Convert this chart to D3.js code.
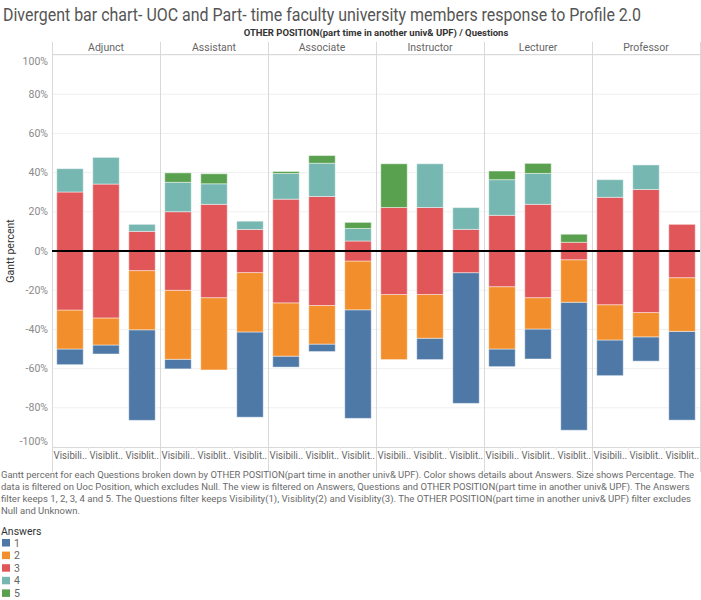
<!DOCTYPE html>
<html>
<head>
<meta charset="utf-8">
<script src="https://cdn.jsdelivr.net/npm/d3@7"></script>
<style>
  html, body { margin: 0; padding: 0; background: #fff; }
  svg { display: block; font-family: "Liberation Sans Narrow", "Roboto", "Liberation Sans", sans-serif; }
</style>
</head>
<body>
<svg id="chart" width="701" height="600"></svg>
<script>
// ---------------- data ----------------
const positions = ["Adjunct", "Assistant", "Associate", "Instructor", "Lecturer", "Professor"];
const questions = ["Visibility(1)", "Visiblity(2)", "Visiblity(3)"];
const questionLabels = ["Visibili..", "Visiblit..", "Visiblit.."];
const answers = ["1", "2", "3", "4", "5"];
const answerColors = ["#4e79a7", "#f28e2b", "#e15759", "#76b7b2", "#59a14f"];
const yTicks = [-100, -80, -60, -40, -20, 0, 20, 40, 60, 80, 100];

// percentages per answer, ordered position x question (Adjunct V1, V2, V3, Assistant V1, ...)
const ans1 = [8, 4.6, 46.2, 4.9, 0, 43.5, 5.6, 3.8, 55.4, 0, 10.9, 66.7, 9, 15.3, 65.3, 18.2, 12.4, 45.3];
const ans2 = [19.9, 13.8, 30.2, 35.2, 36.9, 30.3, 27.2, 19.7, 24.9, 33.2, 22.3, 0, 31.8, 16, 21.7, 18, 12.4, 27.4];
const ans3 = [60.2, 68.3, 20, 40.1, 47.6, 22, 52.9, 55.6, 10.2, 44.4, 44.4, 22.1, 36.4, 47.6, 8.9, 54.8, 62.8, 27.2];
const ans4 = [11.9, 13.6, 3.6, 15, 10.5, 4.2, 13.1, 17, 6.4, 0, 22.3, 11.1, 18.2, 15.8, 0, 9, 12.5, 0];
const ans5 = [0, 0, 0, 4.8, 5.1, 0, 1, 3.9, 3.1, 22.3, 0, 0, 4.4, 5.1, 4.1, 0, 0, 0];
const series = [ans1, ans2, ans3, ans4, ans5];

const titleText = "Divergent bar chart- UOC and Part- time faculty university members response to Profile 2.0";
const headerText = "OTHER POSITION(part time in another univ& UPF) / Questions";
const yTitle = "Gantt percent";
const captionLines = [
  "Gantt percent for each Questions broken down by OTHER POSITION(part time in another univ& UPF).  Color shows details about Answers.  Size shows Percentage. The",
  "data is filtered on Uoc Position, which excludes Null. The view is filtered on Answers, Questions and OTHER POSITION(part time in another univ& UPF). The Answers",
  "filter keeps 1, 2, 3, 4 and 5. The Questions filter keeps Visibility(1), Visiblity(2) and Visiblity(3). The OTHER POSITION(part time in another univ& UPF) filter excludes",
  "Null and Unknown."
];
const captionWidths = [693, 688, 690, 79];
const legendTitle = "Answers";

// ---------------- layout ----------------
const svg = d3.select("#chart");
const plotL = 52, plotR = 700, plotT = 55, plotB = 447;
const headerTop = 42;

const x = d3.scaleBand().domain(positions).range([plotL, plotR]).padding(0);
const xi = d3.scaleBand().domain(questions).range([0, x.bandwidth()]).paddingInner(0.264).paddingOuter(0.132);
const xc = d3.scaleBand().domain(questions).range([0, x.bandwidth()]).padding(0);
const y = d3.scaleLinear().domain([-100, 100]).range([plotB, plotT]);
const color = d3.scaleOrdinal().domain(answers).range(answerColors);

// fit a text to a target width (only squeezes/stretches slightly)
function fitWidth(sel, target) {
  sel.each(function () {
    const w = this.getComputedTextLength();
    if (target > 0 && Math.abs(w - target) > 1) {
      d3.select(this).attr("textLength", target).attr("lengthAdjust", "spacingAndGlyphs");
    }
  });
}

// title
svg.append("text")
  .attr("x", 3).attr("y", 21)
  .attr("font-size", 17.5).attr("fill", "#555")
  .text(titleText).call(fitWidth, 638);

// header
svg.append("text")
  .attr("x", (plotL + plotR) / 2).attr("y", 36)
  .attr("text-anchor", "middle")
  .attr("font-size", 9.5).attr("font-weight", "bold").attr("fill", "#333")
  .text(headerText).call(fitWidth, 265);

// gridlines
svg.append("g").selectAll("line").data(yTicks.filter(d => d !== 0 && d !== -100)).join("line")
  .attr("x1", plotL).attr("x2", plotR)
  .attr("y1", d => y(d)).attr("y2", d => y(d))
  .attr("stroke", "#f0f0f0").attr("stroke-width", 1);

// header bottom line & axis bottom line
svg.append("line").attr("x1", plotL).attr("x2", plotR).attr("y1", 54.5).attr("y2", 54.5)
  .attr("stroke", "#d9d9d9");
svg.append("line").attr("x1", plotL).attr("x2", plotR).attr("y1", plotB + 0.5).attr("y2", plotB + 0.5)
  .attr("stroke", "#d9d9d9");

// panel separators
const seps = positions.map(p => x(p)).concat([plotR]);
svg.append("g").selectAll("line").data(seps).join("line")
  .attr("x1", d => Math.round(d) + 0.5).attr("x2", d => Math.round(d) + 0.5)
  .attr("y1", headerTop).attr("y2", 472)
  .attr("stroke", "#d9d9d9");

// panel labels
svg.append("g").selectAll("text").data(positions).join("text")
  .attr("x", d => x(d) + x.bandwidth() / 2).attr("y", 51)
  .attr("text-anchor", "middle")
  .attr("font-size", 10.5).attr("fill", "#666")
  .text(d => d);

// y axis labels
svg.append("g").selectAll("text").data(yTicks).join("text")
  .attr("x", 48).attr("y", d => Math.max(61, Math.min(441, y(d))))
  .attr("dy", "0.35em")
  .attr("text-anchor", "end")
  .attr("font-size", 10.5).attr("fill", "#8a8a8a")
  .text(d => d + "%");

svg.append("text")
  .attr("transform", `translate(14,${y(0)}) rotate(-90)`)
  .attr("text-anchor", "middle")
  .attr("font-size", 10.5).attr("fill", "#333")
  .text(yTitle);

// bars
const barData = [];
positions.forEach((p, pi) => {
  questions.forEach((q, qi) => {
    const idx = pi * questions.length + qi;
    const vals = series.map(s => s[idx]);
    let start = -(vals[0] + vals[1] + vals[2] / 2);
    vals.forEach((v, ai) => {
      if (v > 0) barData.push({ p, q, a: answers[ai], y0: start, y1: start + v });
      start += v;
    });
  });
});

svg.append("g").selectAll("rect").data(barData).join("rect")
  .attr("x", d => x(d.p) + xi(d.q))
  .attr("width", xi.bandwidth())
  .attr("y", d => y(d.y1))
  .attr("height", d => y(d.y0) - y(d.y1))
  .attr("fill", d => color(d.a))
  .attr("stroke", "#fff").attr("stroke-opacity", 0.45).attr("stroke-width", 1);

// zero line
svg.append("line").attr("x1", plotL).attr("x2", plotR).attr("y1", y(0)).attr("y2", y(0))
  .attr("stroke", "#000").attr("stroke-width", 2);

// column ticks in label row
const colEdges = [];
positions.forEach(p => questions.slice(1).forEach(q => colEdges.push(x(p) + xc(q))));
svg.append("g").selectAll("line").data(colEdges).join("line")
  .attr("x1", d => Math.round(d) + 0.5).attr("x2", d => Math.round(d) + 0.5)
  .attr("y1", plotB).attr("y2", plotB + 3)
  .attr("stroke", "#e6e6e6");

// question labels
const qlab = [];
positions.forEach(p => questions.forEach((q, qi) => qlab.push({ p, q, t: questionLabels[qi] })));
svg.append("g").selectAll("text").data(qlab).join("text")
  .attr("x", d => x(d.p) + xc(d.q) + 1.5).attr("y", 459)
  .attr("font-size", 10).attr("fill", "#666")
  .text(d => d.t).call(fitWidth, 33.5);

// caption
svg.append("g").selectAll("text").data(captionLines).join("text")
  .attr("x", 1).attr("y", (d, i) => 478 + i * 12)
  .attr("font-size", 9.5).attr("fill", "#6a6a6a")
  .text(d => d)
  .each(function (d, i) { fitWidth(d3.select(this), captionWidths[i]); });

// legend
svg.append("text").attr("x", 1).attr("y", 534.5)
  .attr("font-size", 10.5).attr("fill", "#333").text(legendTitle);
const lg = svg.append("g").selectAll("g").data(answers).join("g")
  .attr("transform", (d, i) => `translate(2,${539 + i * 12.6})`);
lg.append("rect").attr("width", 8).attr("height", 7.5).attr("fill", d => color(d));
lg.append("text").attr("x", 12).attr("y", 7.5).attr("font-size", 10.5).attr("fill", "#666").text(d => d);
</script>
</body>
</html>
